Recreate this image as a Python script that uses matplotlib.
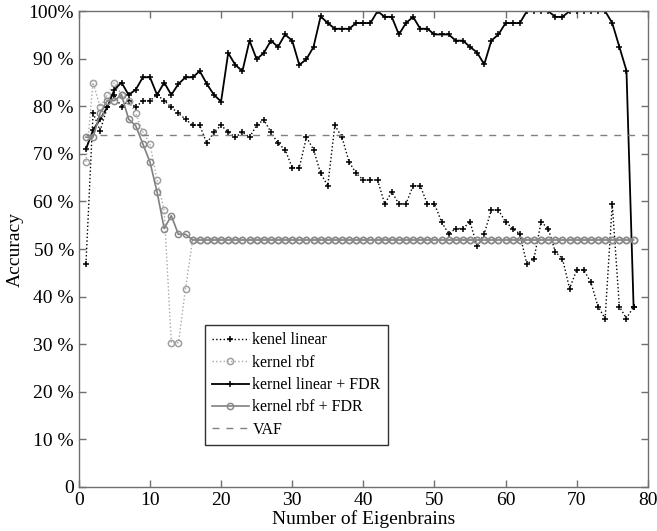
"""Classifier accuracy against the number of eigenbrains."""

import matplotlib
matplotlib.use("Agg")
import matplotlib.pyplot as plt

plt.rcParams["font.family"] = ["Liberation Serif", "DejaVu Serif"]

n_eigenbrains = list(range(1, 79))

acc_linear = [
    46.9, 78.6, 74.9, 79.8, 82.4, 79.8, 81.2, 79.8, 81.2, 81.2,
    82.4, 81.2, 79.8, 78.5, 77.3, 76.0, 76.0, 72.2, 74.6, 76.0,
    74.6, 73.5, 74.6, 73.5, 76.0, 77.2, 74.6, 72.2, 70.9, 67.1,
    67.1, 73.5, 70.9, 65.9, 63.3, 76.0, 73.5, 68.3, 65.9, 64.5,
    64.5, 64.5, 59.5, 62.0, 59.5, 59.5, 63.3, 63.3, 59.5, 59.5,
    55.7, 53.2, 54.3, 54.3, 55.7, 50.6, 53.2, 58.2, 58.2, 55.7,
    54.3, 53.2, 46.8, 48.0, 55.7, 54.3, 49.4, 48.0, 41.7, 45.6,
    45.6, 43.0, 37.9, 35.4, 59.5, 37.9, 35.4, 37.9,
]

acc_rbf = [
    68.3, 85.0, 79.8, 82.4, 85.0, 82.4, 81.2, 78.5, 74.6, 72.1,
    64.5, 58.2, 30.3, 30.3, 41.7, 51.9, 51.9, 51.9, 51.9, 51.9,
    51.9, 51.9, 51.9, 51.9, 51.9, 51.9, 51.9, 51.9, 51.9, 51.9,
    51.9, 51.9, 51.9, 51.9, 51.9, 51.9, 51.9, 51.9, 51.9, 51.9,
    51.9, 51.9, 51.9, 51.9, 51.9, 51.9, 51.9, 51.9, 51.9, 51.9,
    51.9, 51.9, 51.9, 51.9, 51.9, 51.9, 51.9, 51.9, 51.9, 51.9,
    51.9, 51.9, 51.9, 51.9, 51.9, 51.9, 51.9, 51.9, 51.9, 51.9,
    51.9, 51.9, 51.9, 51.9, 51.9, 51.9, 51.9, 51.9,
]

acc_linear_fdr = [
    71.0, 75.0, 77.3, 79.8, 83.5, 85.0, 82.4, 83.5, 86.1, 86.1,
    82.4, 85.0, 82.4, 84.7, 86.1, 86.1, 87.4, 84.7, 82.4, 81.0,
    91.2, 88.7, 87.4, 93.8, 89.9, 91.2, 93.8, 92.5, 95.1, 93.8,
    88.7, 89.9, 92.5, 98.9, 97.5, 96.3, 96.3, 96.3, 97.5, 97.5,
    97.5, 100.0, 98.8, 98.8, 95.1, 97.5, 98.8, 96.3, 96.3, 95.1,
    95.1, 95.1, 93.8, 93.8, 92.5, 91.3, 88.8, 93.8, 95.1, 97.5,
    97.5, 97.5, 100.0, 100.0, 100.0, 100.0, 98.8, 98.8, 100.0, 100.0,
    100.0, 100.0, 100.0, 100.0, 97.5, 92.5, 87.5, 37.9,
]

acc_rbf_fdr = [
    73.5, 73.5, 78.6, 81.2, 81.2, 82.4, 77.3, 75.9, 72.1, 68.3,
    62.0, 54.3, 57.0, 53.1, 53.1, 51.9, 51.9, 51.9, 51.9, 51.9,
    51.9, 51.9, 51.9, 51.9, 51.9, 51.9, 51.9, 51.9, 51.9, 51.9,
    51.9, 51.9, 51.9, 51.9, 51.9, 51.9, 51.9, 51.9, 51.9, 51.9,
    51.9, 51.9, 51.9, 51.9, 51.9, 51.9, 51.9, 51.9, 51.9, 51.9,
    51.9, 51.9, 51.9, 51.9, 51.9, 51.9, 51.9, 51.9, 51.9, 51.9,
    51.9, 51.9, 51.9, 51.9, 51.9, 51.9, 51.9, 51.9, 51.9, 51.9,
    51.9, 51.9, 51.9, 51.9, 51.9, 51.9, 51.9, 51.9,
]

vaf_x = [1, 80]
vaf_acc = [74.0, 74.0]

x_ticks = [0, 10, 20, 30, 40, 50, 60, 70, 80]
y_ticks = [0, 10, 20, 30, 40, 50, 60, 70, 80, 90, 100]
y_tick_labels = ["0", "10 %", "20 %", "30 %", "40 %", "50 %",
                 "60 %", "70 %", "80 %", "90 %", "100%"]

fig = plt.figure(figsize=(6.57, 5.31), dpi=100)
ax = fig.add_axes([0.120, 0.083, 0.866, 0.896])

ax.plot(n_eigenbrains, acc_linear, linestyle=":", color="black",
        linewidth=1.0, marker="+", markersize=5, markeredgewidth=1.1,
        label="kenel linear")
ax.plot(n_eigenbrains, acc_rbf, linestyle=":", color="#a8a8a8",
        linewidth=1.0, marker="o", markersize=4.5, markerfacecolor="none",
        markeredgecolor="#a0a0a0", markeredgewidth=1.1,
        label="kernel rbf")
ax.plot(n_eigenbrains, acc_linear_fdr, linestyle="-", color="black",
        linewidth=1.3, marker="+", markersize=5, markeredgewidth=1.1,
        label="kernel linear + FDR")
ax.plot(n_eigenbrains, acc_rbf_fdr, linestyle="-", color="#808080",
        linewidth=1.2, marker="o", markersize=4.5, markerfacecolor="none",
        markeredgecolor="#8a8a8a", markeredgewidth=1.1,
        label="kernel rbf + FDR")
ax.plot(vaf_x, vaf_acc, linestyle=(0, (5, 5)), color="#808080",
        linewidth=1.0, label="VAF")

ax.set_xlim(0, 80)
ax.set_ylim(0, 100)
ax.set_xticks(x_ticks)
ax.set_yticks(y_ticks)
ax.set_yticklabels(y_tick_labels)
ax.tick_params(direction="in", length=5, width=1, colors="#707070",
               labelcolor="black", labelsize=14, top=True, right=True)
for spine in ax.spines.values():
    spine.set_color("#707070")
    spine.set_linewidth(1.0)

ax.set_xlabel("Number of Eigenbrains", fontsize=14, labelpad=1)
ax.set_ylabel("Accuracy", fontsize=14, labelpad=3)

legend = ax.legend(loc="lower left", bbox_to_anchor=(0.221, 0.088),
                   fontsize=11.5, fancybox=False, framealpha=1,
                   borderpad=0.45, labelspacing=0.4, handlelength=2.3,
                   handletextpad=0.25, borderaxespad=0)
legend.get_frame().set_edgecolor("#303030")
legend.get_frame().set_linewidth(1.0)

fig.savefig("out.png", dpi=100)
